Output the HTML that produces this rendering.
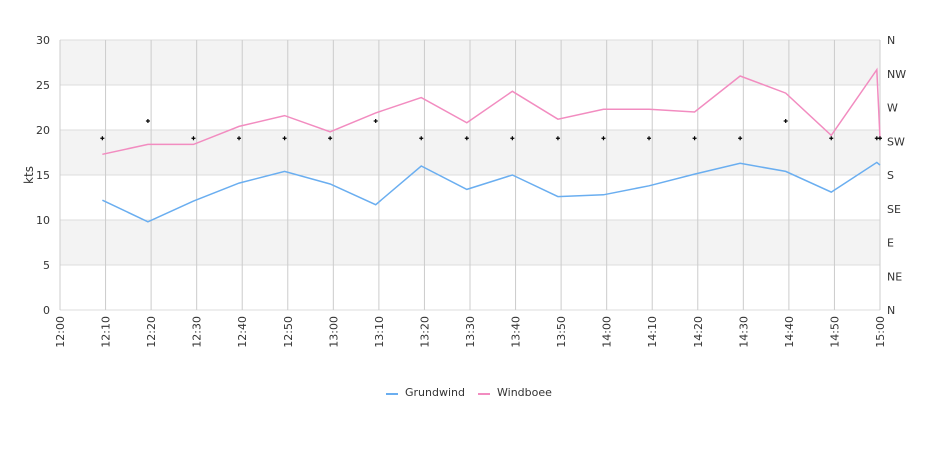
<!DOCTYPE html>
<html><head><meta charset="utf-8"><style>
body{margin:0;background:#fff;font-family:"Liberation Sans","DejaVu Sans",sans-serif;}
svg text{font-family:"DejaVu Sans","Liberation Sans",sans-serif;font-size:11px;fill:#333;}
</style></head><body>
<svg id="chart" width="940" height="450" xmlns="http://www.w3.org/2000/svg">
<g id="bands"></g>
<g id="grid"></g>
<g id="axes"></g>
<g id="series"></g>
<text transform="translate(33,175) rotate(-90)" text-anchor="middle" style="font-size:12px">kts</text>
<g>
<g><line x1="386" y1="394" x2="398" y2="394" stroke="#6aaef0" stroke-width="2"/><text x="405" y="396">Grundwind</text></g>
<g><line x1="478" y1="394" x2="490" y2="394" stroke="#f28cc0" stroke-width="2"/><text x="497" y="396">Windboee</text></g>
</g>
</svg>
<script>
const times=[9.3,19.3,29.3,39.3,49.3,59.3,69.3,79.3,89.3,99.3,109.3,119.3,129.3,139.3,149.3,159.3,169.3,179.3,180];
const grundwind=[12.2,9.8,12.1,14.1,15.4,14.0,11.7,16.0,13.4,15.0,12.6,12.8,13.8,15.1,16.3,15.4,13.1,16.4,16.1];
const windboee=[17.3,18.4,18.4,20.4,21.6,19.8,21.9,23.6,20.8,24.3,21.2,22.3,22.3,22.0,26.0,24.1,19.4,26.7,19.1];
const direction=[229,252,229,229,229,229,252,229,229,229,229,229,229,229,229,252,229,229,229];
const xTicks=["12:00","12:10","12:20","12:30","12:40","12:50","13:00","13:10","13:20","13:30","13:40","13:50","14:00","14:10","14:20","14:30","14:40","14:50","15:00"];
const yTicks=[0,5,10,15,20,25,30];
const dirTicks=["N","NE","E","SE","S","SW","W","NW","N"];
const L=60,R=880,T=40,B=310;
const x=m=>L+(R-L)*m/180, y=v=>B-(B-T)*v/30, yd=d=>B-(B-T)*d/360;
const NS="http://www.w3.org/2000/svg";
function mk(p,tag,at){const e=document.createElementNS(NS,tag);for(const k in at)e.setAttribute(k,at[k]);document.getElementById(p).appendChild(e);return e;}
[[25,30],[15,20],[5,10]].forEach(b=>{const r=mk('bands','rect',{x:L,y:y(b[1]),width:R-L,height:y(b[0])-y(b[1]),fill:'#f3f3f3'});
 
 });
yTicks.forEach(v=>{const l=mk('grid','line',{x1:L,x2:R,y1:y(v),y2:y(v),stroke:'#dddddd'});
 
 
 const t=mk('axes','text',{x:L-10,y:y(v)+4,'text-anchor':'end'});t.textContent=v;
 
 });
xTicks.forEach((s,i)=>{const xx=x(i*10);
 const l=mk('grid','line',{x1:xx,x2:xx,y1:T,y2:B,stroke:'#cccccc'});
 
 
 const t=mk('axes','text',{transform:`translate(${xx+4},${B+6}) rotate(-90)`,'text-anchor':'end'});t.textContent=s;
 
 });
dirTicks.forEach((s,i)=>{const t=mk('axes','text',{x:R+7,y:yd(i*45)+4});t.textContent=s;
 
 });
function line(vals,col,name){const p=mk('series','polyline',{points:vals.map((v,i)=>x(times[i])+','+y(v)).join(' '),fill:'none',stroke:col,'stroke-width':1.5});
 
 }
line(grundwind,'#6aaef0','grundwind-line');
line(windboee,'#f28cc0','windboee-line');
direction.forEach((d,i)=>{const cx=x(times[i]),cy=yd(d);
 const p=mk('series','path',{d:`M${cx-2} ${cy}H${cx+2}M${cx} ${cy-2}V${cy+2}`,stroke:'#000','stroke-width':1.2});
 
 });
</script>
</body></html>
